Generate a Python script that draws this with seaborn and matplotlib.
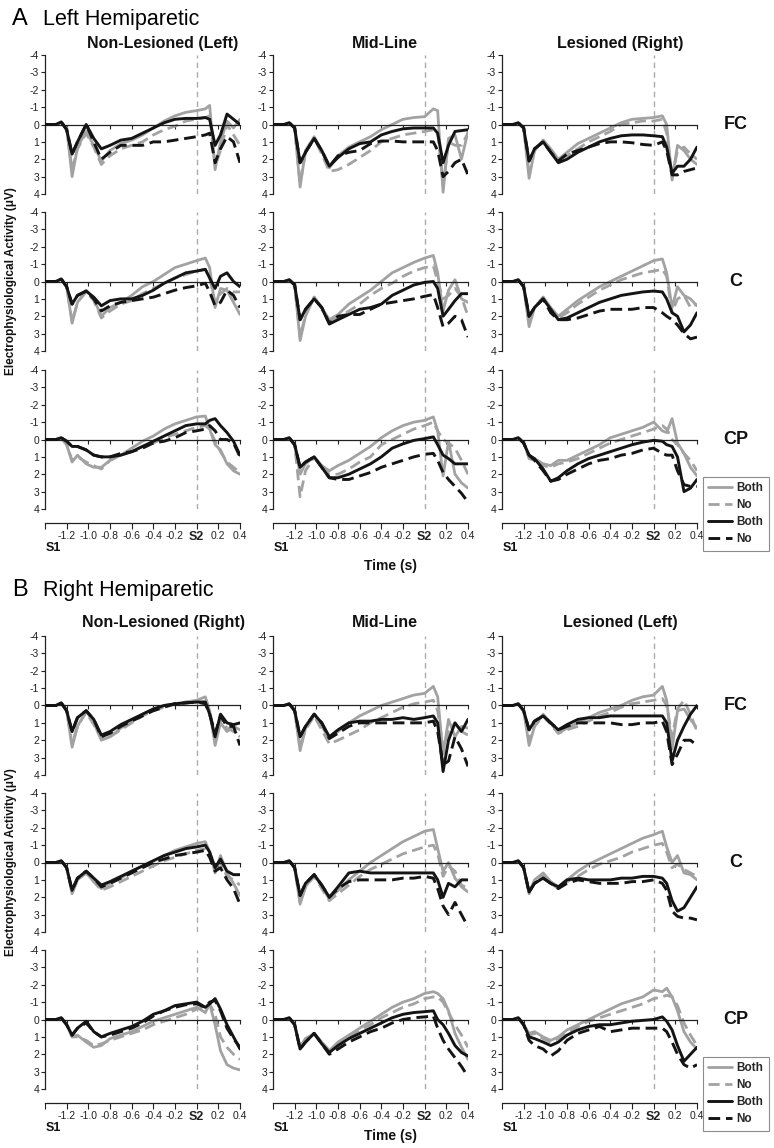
import matplotlib
matplotlib.use("Agg")
import matplotlib.pyplot as plt
import seaborn as sns
from matplotlib.lines import Line2D

sns.set_style("white")
plt.rcParams['font.family'] = ['Liberation Sans', 'DejaVu Sans']
plt.rcParams['xtick.bottom'] = True
plt.rcParams['ytick.left'] = True

# ---------------- data ----------------
time_s = [-1.4, -1.3, -1.25, -1.2, -1.15, -1.1, -1.02, -0.95, -0.88, -0.8, -0.7, -0.6,
          -0.5, -0.4, -0.3, -0.2, -0.1, 0.0, 0.08, 0.12, 0.17, 0.22, 0.28, 0.34, 0.4]

panel_letters = ["A", "B"]
panel_titles = ["Left Hemiparetic", "Right Hemiparetic"]
row_names = ["FC", "C", "CP"]
col_keys = ["L", "M", "R"]
col_titles_A = ["Non-Lesioned (Left)", "Mid-Line", "Lesioned (Right)"]
col_titles_B = ["Non-Lesioned (Right)", "Mid-Line", "Lesioned (Left)"]
y_ticks = [-4, -3, -2, -1, 0, 1, 2, 3, 4]
y_tick_labels = ["-4", "-3", "-2", "-1", "0", "1", "2", "3", "4"]
x_ticks = [-1.4, -1.2, -1.0, -0.8, -0.6, -0.4, -0.2, 0.0, 0.2, 0.4]
x_tick_labels = ["", "-1.2", "-1.0", "-0.8", "-0.6", "-0.4", "-0.2", "S2", "0.2", "0.4"]
legend_labels = ["Both", "No", "Both", "No"]
y_label = "Electrophysiological Activity (\u03bcV)"
x_label = "Time (s)"

# gb = grey Both, gn = grey No, kb = black Both, kn = black No
A_FC_L_gb = [0, 0, -0.1, 0.2, 3.0, 1.3, 0.4, 1.2, 2.1, 1.5, 1.1, 0.9, 0.6, 0.2, -0.2, -0.5, -0.7, -0.8, -0.9, -1.1, 2.6, 1.0, -0.2, 0.2, -0.3]
A_FC_L_gn = [0, 0, -0.1, 0.2, 2.6, 1.4, 0.5, 1.3, 2.3, 1.8, 1.4, 1.2, 1.0, 0.6, 0.3, 0.1, -0.2, -0.3, -0.4, -0.5, 2.4, 1.5, 0.0, 0.6, 1.2]
A_FC_L_kb = [0, 0, -0.15, 0.3, 1.7, 1.0, 0.0, 0.8, 1.4, 1.2, 0.9, 0.8, 0.5, 0.2, -0.1, -0.3, -0.35, -0.35, -0.4, -0.3, 1.2, 0.6, -0.6, -0.3, 0.0]
A_FC_L_kn = [0, 0, -0.15, 0.3, 1.7, 1.0, 0.0, 1.0, 2.0, 1.6, 1.2, 1.2, 1.2, 1.0, 1.0, 0.9, 0.8, 0.7, 0.6, 0.5, 2.2, 1.4, 0.7, 1.0, 2.2]

A_FC_M_gb = [0, 0, -0.1, 0.2, 3.6, 1.5, 0.7, 1.5, 2.5, 1.8, 1.3, 1.0, 0.7, 0.3, 0.0, -0.3, -0.4, -0.45, -0.9, -0.8, 3.9, 0.8, 0.6, 2.0, 0.4]
A_FC_M_gn = [0, 0, -0.1, 0.2, 3.4, 1.6, 0.8, 1.7, 2.7, 2.6, 2.3, 1.9, 1.5, 1.0, 0.8, 0.6, 0.5, 0.4, 0.3, 0.5, 3.5, 1.0, 1.2, 1.2, 0.5]
A_FC_M_kb = [0, 0, -0.1, 0.2, 2.2, 1.6, 0.8, 1.5, 2.4, 1.9, 1.4, 1.1, 1.0, 0.6, 0.4, 0.25, 0.2, 0.2, 0.2, 0.5, 2.2, 1.2, 0.4, 0.35, 0.3]
A_FC_M_kn = [0, 0, -0.1, 0.2, 2.2, 1.6, 0.8, 1.5, 2.4, 1.8, 1.6, 1.5, 1.1, 0.95, 0.95, 1.0, 1.0, 1.0, 1.0, 1.5, 3.0, 2.7, 2.2, 2.0, 2.9]

A_FC_R_gb = [0, 0, -0.1, 0.2, 3.1, 1.5, 0.9, 1.4, 2.0, 1.6, 1.1, 0.8, 0.5, 0.2, -0.1, -0.3, -0.35, -0.4, -0.5, 0.0, 3.2, 1.2, 1.5, 2.0, 2.3]
A_FC_R_gn = [0, 0, -0.1, 0.2, 2.8, 1.5, 0.9, 1.5, 2.0, 1.8, 1.4, 1.0, 0.7, 0.4, 0.0, -0.1, -0.2, -0.2, -0.3, 0.5, 3.0, 1.5, 1.3, 1.7, 2.0]
A_FC_R_kb = [0, 0, -0.1, 0.2, 2.1, 1.4, 1.0, 1.6, 2.2, 2.0, 1.6, 1.3, 1.0, 0.8, 0.65, 0.6, 0.6, 0.65, 0.7, 1.3, 2.8, 2.4, 2.4, 2.0, 1.3]
A_FC_R_kn = [0, 0, -0.1, 0.2, 2.1, 1.4, 1.0, 1.6, 2.1, 1.7, 1.5, 1.3, 1.1, 1.0, 1.0, 1.05, 1.15, 1.2, 1.0, 1.5, 2.9, 2.9, 2.7, 2.6, 2.5]

A_C_L_gb = [0, 0, -0.1, 0.3, 2.4, 1.2, 0.5, 1.0, 2.0, 1.5, 1.2, 0.8, 0.3, 0.0, -0.4, -0.8, -1.0, -1.2, -1.35, -0.8, 1.5, 0.4, 0.5, 1.2, 1.9]
A_C_L_gn = [0, 0, -0.1, 0.3, 2.3, 1.2, 0.6, 1.1, 2.1, 1.7, 1.3, 1.1, 0.7, 0.4, 0.1, -0.2, -0.4, -0.6, -0.7, -0.2, 1.2, 0.7, 0.4, 0.6, 0.6]
A_C_L_kb = [0, 0, -0.15, 0.3, 1.3, 0.8, 0.55, 0.9, 1.4, 1.1, 1.0, 1.0, 0.8, 0.5, 0.1, -0.2, -0.5, -0.6, -0.7, -0.2, 0.4, -0.3, -0.5, 0.0, 0.3]
A_C_L_kn = [0, 0, -0.15, 0.3, 1.3, 0.8, 0.55, 1.0, 1.7, 1.4, 1.2, 1.1, 1.0, 0.9, 0.7, 0.5, 0.35, 0.25, 0.1, 0.6, 1.4, 1.2, 0.5, 0.8, 1.5]

A_C_M_gb = [0, 0, -0.1, 0.2, 3.4, 2.0, 0.9, 1.5, 2.2, 1.9, 1.3, 0.9, 0.5, 0.0, -0.5, -0.8, -1.1, -1.35, -1.5, -0.5, 1.7, 0.5, -0.1, 1.0, 1.2]
A_C_M_gn = [0, 0, -0.1, 0.2, 3.2, 1.9, 0.9, 1.6, 2.3, 2.1, 1.7, 1.3, 0.8, 0.4, 0.1, -0.3, -0.6, -0.8, -0.9, 0.0, 1.0, 0.8, 0.4, 0.9, 2.0]
A_C_M_kb = [0, 0, -0.1, 0.2, 2.2, 1.6, 1.0, 1.5, 2.45, 2.2, 1.9, 1.6, 1.5, 1.3, 0.8, 0.5, 0.2, 0.05, 0.0, 0.4, 2.0, 1.6, 1.1, 0.7, 0.7]
A_C_M_kn = [0, 0, -0.1, 0.2, 2.2, 1.6, 1.0, 1.5, 2.4, 2.0, 1.9, 1.9, 1.6, 1.3, 1.2, 1.1, 1.0, 0.85, 0.75, 1.5, 2.6, 2.4, 2.0, 2.2, 3.2]

A_C_R_gb = [0, 0, -0.1, 0.3, 2.6, 1.5, 0.9, 1.5, 2.0, 1.6, 1.1, 0.7, 0.3, 0.0, -0.3, -0.6, -0.9, -1.2, -1.3, -0.5, 1.5, 0.3, 0.8, 1.0, 1.4]
A_C_R_gn = [0, 0, -0.1, 0.3, 2.3, 1.5, 0.9, 1.6, 2.1, 1.8, 1.3, 0.9, 0.5, 0.2, -0.1, -0.3, -0.5, -0.6, -0.7, -0.3, 1.8, 1.0, 0.8, 1.5, 1.3]
A_C_R_kb = [0, 0, -0.1, 0.3, 2.0, 1.5, 1.0, 1.6, 2.2, 2.1, 1.8, 1.5, 1.2, 1.0, 0.8, 0.7, 0.6, 0.55, 0.6, 1.0, 1.8, 2.0, 2.9, 2.5, 1.8]
A_C_R_kn = [0, 0, -0.1, 0.3, 2.0, 1.5, 1.0, 1.8, 2.2, 2.2, 2.1, 1.9, 1.7, 1.6, 1.6, 1.6, 1.5, 1.5, 1.8, 2.0, 2.2, 2.5, 3.0, 3.3, 3.2]

A_CP_L_gb = [0, 0, -0.1, 0.3, 1.3, 0.9, 1.4, 1.6, 1.6, 1.2, 0.9, 0.5, 0.1, -0.2, -0.6, -0.9, -1.1, -1.3, -1.35, -0.6, 0.3, 0.6, 1.4, 1.8, 2.0]
A_CP_L_gn = [0, 0, -0.1, 0.3, 1.2, 1.0, 1.3, 1.5, 1.7, 1.2, 0.9, 0.7, 0.4, 0.2, -0.1, -0.3, -0.5, -0.7, -0.8, -0.6, 0.1, 0.7, 1.3, 1.6, 1.9]
A_CP_L_kb = [0, 0, -0.1, 0.1, 0.4, 0.4, 0.6, 0.9, 1.0, 1.0, 0.9, 0.7, 0.4, 0.1, -0.2, -0.5, -0.8, -0.9, -0.9, -1.1, -1.2, -0.8, -0.4, 0.1, 0.9]
A_CP_L_kn = [0, 0, -0.1, 0.1, 0.4, 0.4, 0.6, 0.9, 1.0, 1.0, 0.8, 0.7, 0.5, 0.2, 0.1, -0.1, -0.4, -0.5, -0.6, -0.8, -0.5, 0.0, 0.0, 0.2, 1.0]

A_CP_M_gb = [0, 0, -0.1, 0.3, 2.0, 1.4, 1.0, 1.5, 1.8, 1.5, 1.2, 0.8, 0.4, -0.1, -0.5, -0.8, -1.0, -1.1, -1.3, -0.5, 2.1, 0.1, 2.0, 2.5, 2.8]
A_CP_M_gn = [0, 0, -0.1, 0.3, 3.3, 1.8, 1.0, 1.6, 2.0, 2.0, 1.7, 1.3, 1.0, 0.3, 0.0, -0.3, -0.6, -0.8, -1.0, -0.5, 0.0, 0.2, 0.5, 1.2, 2.0]
A_CP_M_kb = [0, 0, -0.1, 0.3, 1.6, 1.3, 1.0, 1.6, 2.2, 2.2, 2.0, 1.7, 1.4, 1.0, 0.5, 0.25, 0.05, -0.05, -0.15, 0.3, 0.9, 1.1, 1.4, 1.4, 1.4]
A_CP_M_kn = [0, 0, -0.1, 0.3, 1.6, 1.3, 1.0, 1.6, 2.2, 2.3, 2.3, 2.1, 1.9, 1.6, 1.4, 1.2, 1.0, 0.85, 0.8, 1.2, 1.9, 2.3, 2.7, 3.1, 3.6]

A_CP_R_gb = [0, 0, -0.1, 0.2, 1.0, 1.1, 1.4, 1.5, 1.2, 1.2, 0.9, 0.6, 0.3, -0.1, -0.3, -0.5, -0.7, -1.0, -0.5, -0.4, -1.2, 0.2, 0.8, 1.6, 2.1]
A_CP_R_gn = [0, 0, -0.1, 0.2, 1.1, 1.2, 1.5, 1.6, 1.4, 1.3, 1.1, 0.8, 0.5, 0.2, 0.0, -0.2, -0.4, -0.6, -0.8, -0.6, 0.0, 0.3, 0.8, 1.2, 1.8]
A_CP_R_kb = [0, 0, -0.1, 0.2, 0.9, 1.1, 1.7, 2.4, 2.2, 1.8, 1.4, 1.1, 0.9, 0.7, 0.5, 0.3, 0.15, 0.05, 0.1, 0.3, 0.4, 1.0, 3.0, 2.8, 2.3]
A_CP_R_kn = [0, 0, -0.1, 0.2, 0.9, 1.2, 1.8, 2.4, 2.3, 2.0, 1.7, 1.4, 1.2, 1.1, 0.9, 0.8, 0.6, 0.5, 0.8, 0.9, 0.9, 1.8, 2.6, 2.7, 2.7]

B_FC_L_gb = [0, 0, -0.15, 0.3, 2.4, 1.2, 0.3, 1.0, 2.0, 1.8, 1.3, 0.9, 0.5, 0.2, 0.0, -0.1, -0.2, -0.3, -0.5, 0.3, 2.3, 1.0, 1.5, 1.2, 1.4]
B_FC_L_gn = [0, 0, -0.15, 0.3, 2.2, 1.2, 0.4, 1.1, 1.9, 1.8, 1.4, 1.0, 0.6, 0.3, 0.1, -0.1, -0.2, -0.2, -0.2, 0.3, 1.8, 0.8, 1.3, 1.5, 1.8]
B_FC_L_kb = [0, 0, -0.15, 0.3, 1.5, 0.7, 0.3, 0.8, 1.7, 1.5, 1.1, 0.8, 0.5, 0.2, 0.0, -0.1, -0.15, -0.2, -0.2, 0.5, 1.8, 0.5, 1.0, 1.1, 1.0]
B_FC_L_kn = [0, 0, -0.15, 0.3, 1.5, 0.7, 0.3, 0.8, 1.8, 1.6, 1.2, 0.9, 0.6, 0.3, 0.1, -0.1, -0.15, -0.2, -0.1, 0.5, 1.6, 0.6, 1.2, 1.2, 2.3]

B_FC_M_gb = [0, 0, -0.1, 0.3, 2.6, 1.3, 0.5, 1.2, 1.9, 1.5, 1.0, 0.6, 0.3, 0.0, -0.2, -0.4, -0.6, -0.7, -1.1, -0.5, 2.8, 0.8, 1.8, 1.2, 1.3]
B_FC_M_gn = [0, 0, -0.1, 0.3, 2.4, 1.4, 0.6, 1.4, 2.2, 2.0, 1.7, 1.4, 1.0, 0.7, 0.4, 0.1, -0.1, -0.2, -0.3, 0.3, 2.5, 1.5, 1.0, 1.5, 1.7]
B_FC_M_kb = [0, 0, -0.1, 0.3, 1.8, 1.2, 0.5, 1.0, 1.8, 1.4, 1.0, 0.9, 0.9, 0.8, 0.8, 0.7, 0.8, 0.7, 0.6, 1.0, 3.8, 2.0, 1.0, 1.5, 0.8]
B_FC_M_kn = [0, 0, -0.1, 0.3, 1.8, 1.2, 0.5, 1.0, 1.9, 1.6, 1.2, 1.0, 1.0, 1.0, 1.0, 1.0, 1.0, 1.0, 0.9, 1.5, 3.4, 3.2, 1.8, 2.5, 3.5]

B_FC_R_gb = [0, 0, -0.1, 0.3, 2.3, 1.2, 0.5, 1.0, 1.6, 1.3, 1.0, 0.7, 0.4, 0.2, 0.0, -0.3, -0.5, -0.6, -1.1, -0.3, 2.5, 0.3, 0.2, 0.8, 1.3]
B_FC_R_gn = [0, 0, -0.1, 0.3, 2.0, 1.2, 0.6, 1.1, 1.6, 1.4, 1.2, 0.9, 0.6, 0.4, 0.1, -0.1, -0.2, -0.3, -0.4, 0.0, 1.8, 0.2, -0.3, 0.5, 1.5]
B_FC_R_kb = [0, 0, -0.1, 0.3, 1.4, 0.9, 0.6, 1.0, 1.4, 1.1, 0.8, 0.7, 0.7, 0.6, 0.6, 0.6, 0.6, 0.6, 0.6, 1.0, 3.2, 2.0, 1.2, 0.5, 0.0]
B_FC_R_kn = [0, 0, -0.1, 0.3, 1.4, 0.9, 0.6, 1.0, 1.4, 1.2, 1.0, 1.0, 1.0, 1.0, 1.1, 1.1, 1.0, 1.0, 0.9, 1.5, 3.4, 2.8, 2.0, 2.0, 2.3]

B_C_L_gb = [0, 0, -0.1, 0.3, 1.8, 1.0, 0.6, 1.1, 1.5, 1.2, 0.9, 0.5, 0.2, -0.1, -0.4, -0.7, -0.9, -1.1, -1.2, -0.6, 0.6, -0.4, 0.6, 1.2, 1.9]
B_C_L_gn = [0, 0, -0.1, 0.3, 1.7, 1.0, 0.6, 1.1, 1.6, 1.4, 1.1, 0.8, 0.5, 0.2, -0.1, -0.3, -0.5, -0.7, -0.8, -0.4, 0.3, 0.0, 0.8, 1.0, 1.3]
B_C_L_kb = [0, 0, -0.1, 0.3, 1.6, 0.9, 0.5, 0.9, 1.3, 1.1, 0.8, 0.5, 0.2, -0.1, -0.4, -0.6, -0.8, -0.9, -1.0, -0.6, 0.3, -0.2, 0.5, 0.7, 0.7]
B_C_L_kn = [0, 0, -0.1, 0.3, 1.6, 0.9, 0.5, 0.9, 1.4, 1.2, 0.9, 0.6, 0.3, 0.0, -0.2, -0.4, -0.5, -0.6, -0.7, -0.3, 0.5, 0.3, 1.0, 1.5, 2.4]

B_C_M_gb = [0, 0, -0.1, 0.3, 2.4, 1.4, 0.7, 1.4, 2.1, 1.6, 1.0, 0.5, 0.0, -0.4, -0.8, -1.2, -1.5, -1.8, -1.9, -0.8, 0.5, 0.0, 0.9, 1.4, 1.7]
B_C_M_gn = [0, 0, -0.1, 0.3, 2.3, 1.4, 0.8, 1.5, 2.2, 1.8, 1.3, 0.8, 0.4, 0.1, -0.2, -0.5, -0.7, -0.9, -1.0, -0.5, 0.8, 0.2, 0.5, 1.3, 1.5]
B_C_M_kb = [0, 0, -0.1, 0.3, 1.9, 1.2, 0.7, 1.3, 2.0, 1.4, 0.6, 0.5, 0.6, 0.6, 0.6, 0.6, 0.6, 0.6, 0.6, 1.0, 2.0, 1.2, 1.4, 1.0, 1.0]
B_C_M_kn = [0, 0, -0.1, 0.3, 1.9, 1.2, 0.7, 1.3, 2.0, 1.5, 1.1, 1.0, 1.0, 1.0, 1.0, 0.9, 0.9, 0.8, 0.9, 1.5, 2.5, 3.0, 2.3, 3.0, 3.7]

B_C_R_gb = [0, 0, -0.1, 0.3, 1.8, 1.0, 0.6, 1.1, 1.4, 1.0, 0.5, 0.1, -0.2, -0.5, -0.8, -1.1, -1.4, -1.6, -1.8, -0.9, 0.0, -0.4, 0.6, 0.7, 1.0]
B_C_R_gn = [0, 0, -0.1, 0.3, 1.7, 1.1, 0.7, 1.2, 1.5, 1.1, 0.8, 0.4, 0.1, -0.1, -0.3, -0.6, -0.8, -1.0, -1.1, -0.6, 0.3, 0.1, 0.4, 0.6, 0.8]
B_C_R_kb = [0, 0, -0.1, 0.3, 1.7, 1.2, 0.9, 1.2, 1.4, 1.0, 0.9, 1.0, 1.0, 1.0, 0.9, 0.9, 0.8, 0.8, 0.9, 1.2, 2.2, 2.8, 2.6, 2.0, 1.4]
B_C_R_kn = [0, 0, -0.1, 0.3, 1.7, 1.2, 0.9, 1.2, 1.5, 1.2, 1.0, 1.1, 1.2, 1.2, 1.2, 1.1, 1.1, 1.0, 1.2, 1.6, 2.8, 3.1, 3.2, 3.2, 3.3]

B_CP_L_gb = [0, 0, -0.1, 0.3, 1.0, 0.9, 1.3, 1.6, 1.5, 1.1, 0.9, 0.7, 0.4, 0.1, -0.1, -0.3, -0.5, -0.7, -0.4, -0.9, 0.3, 1.8, 2.6, 2.8, 2.9]
B_CP_L_gn = [0, 0, -0.1, 0.3, 1.0, 1.0, 1.2, 1.5, 1.4, 1.2, 1.0, 0.8, 0.6, 0.3, 0.1, -0.1, -0.3, -0.6, -0.7, -0.9, -0.3, 1.0, 1.6, 2.0, 2.3]
B_CP_L_kb = [0, 0, -0.1, 0.3, 0.9, 0.5, 0.1, 0.7, 1.0, 0.8, 0.6, 0.4, 0.1, -0.3, -0.5, -0.8, -0.9, -1.0, -0.7, -0.9, -1.2, -0.6, 0.3, 1.0, 1.7]
B_CP_L_kn = [0, 0, -0.1, 0.3, 0.9, 0.5, 0.2, 0.7, 1.0, 0.9, 0.7, 0.5, 0.2, -0.2, -0.5, -0.7, -0.85, -0.9, -0.7, -1.0, -1.1, -0.5, 0.5, 1.1, 1.6]

B_CP_M_gb = [0, 0, -0.1, 0.3, 1.6, 1.1, 0.8, 1.3, 1.8, 1.3, 0.9, 0.5, 0.1, -0.3, -0.7, -1.0, -1.2, -1.5, -1.6, -1.5, -1.2, -0.5, 0.8, 1.6, 2.3]
B_CP_M_gn = [0, 0, -0.1, 0.3, 1.6, 1.1, 0.8, 1.3, 1.8, 1.4, 1.0, 0.6, 0.3, -0.1, -0.4, -0.7, -0.9, -1.2, -1.3, -1.3, -1.0, -0.4, 0.3, 0.9, 1.6]
B_CP_M_kb = [0, 0, -0.1, 0.3, 1.7, 1.3, 0.8, 1.4, 1.9, 1.5, 1.1, 0.8, 0.5, 0.2, -0.1, -0.3, -0.4, -0.45, -0.5, 0.0, 0.3, 0.8, 1.5, 1.9, 2.1]
B_CP_M_kn = [0, 0, -0.1, 0.3, 1.7, 1.3, 0.8, 1.4, 2.0, 1.7, 1.3, 1.0, 0.7, 0.5, 0.2, 0.0, -0.1, -0.15, -0.2, 0.5, 1.2, 1.7, 2.2, 2.7, 3.3]

B_CP_R_gb = [0, 0, -0.1, 0.3, 0.8, 0.7, 1.0, 1.2, 1.0, 0.6, 0.3, 0.0, -0.3, -0.6, -0.9, -1.1, -1.3, -1.7, -1.6, -1.8, -1.3, -0.5, 0.7, 1.3, 1.7]
B_CP_R_gn = [0, 0, -0.1, 0.3, 0.9, 0.8, 1.1, 1.3, 1.1, 0.8, 0.4, 0.1, -0.1, -0.3, -0.5, -0.7, -0.9, -1.2, -1.3, -1.4, -1.3, -0.8, 0.2, 0.9, 1.5]
B_CP_R_kb = [0, 0, -0.1, 0.3, 1.0, 1.1, 1.3, 1.5, 1.3, 0.9, 0.6, 0.4, 0.3, 0.3, 0.2, 0.1, 0.05, 0.0, -0.15, 0.1, 0.6, 1.5, 2.4, 2.0, 1.6]
B_CP_R_kn = [0, 0, -0.1, 0.3, 1.2, 1.5, 1.7, 2.1, 1.8, 1.2, 0.8, 0.6, 0.4, 0.7, 0.6, 0.5, 0.5, 0.5, 0.5, 0.7, 1.3, 2.0, 2.6, 2.8, 2.6]

# ---------------- style ----------------
GREY = "#a2a2a2"
BLACK = "#141414"
series_order = ["gn", "gb", "kn", "kb"]
series_style = {
    "gb": dict(color=GREY, linewidth=2.0, linestyle="-"),
    "gn": dict(color=GREY, linewidth=2.0, linestyle=(0, (4, 2))),
    "kb": dict(color=BLACK, linewidth=2.1, linestyle="-"),
    "kn": dict(color=BLACK, linewidth=2.1, linestyle=(0, (4, 2))),
}

W, H = 774, 1148
fig = plt.figure(figsize=(W / 100, H / 100), dpi=100)


def fx(x):
    return x / W


def fy(y):
    return 1 - y / H


col_left = [45, 273, 502]
ax_w, ax_h = 195, 139
row_top = {"A": [55, 212, 370], "B": [636, 793, 950]}
title_y = {"A": 25, "B": 596}
coltitle_y = {"A": 48, "B": 627}
coltitle_x = [163, 385, 620]
xlabel_y = {"A": 566, "B": 1136}
legend_top = {"A": 477, "B": 1057}
g = globals()

for pi, p in enumerate(panel_letters):
    fig.text(fx(12), fy(title_y[p]), p, fontsize=17, va="baseline", ha="left", color="black")
    fig.text(fx(43), fy(title_y[p]), panel_titles[pi], fontsize=15.5, va="baseline",
             ha="left", color="black")
    ctitles = col_titles_A if p == "A" else col_titles_B
    for ci in range(3):
        fig.text(fx(coltitle_x[ci]), fy(coltitle_y[p]), ctitles[ci], fontsize=11.5,
                 fontweight="bold", ha="center", va="baseline", color="#111111")
    for ri, r in enumerate(row_names):
        top = row_top[p][ri]
        for ci, c in enumerate(col_keys):
            ax = fig.add_axes([fx(col_left[ci]), fy(top + ax_h), fx(ax_w), ax_h / H])
            ax.patch.set_alpha(0)
            ax.axvline(0, color="#ababab", lw=1.0, ls=(0, (4, 3)), zorder=0)
            for s in series_order:
                vals = g[f"{p}_{r}_{c}_{s}"]
                sns.lineplot(x=time_s, y=vals, ax=ax, estimator=None, sort=False,
                             legend=False, zorder=3 if s.startswith("k") else 2,
                             **series_style[s])
            ax.set_xlim(-1.4, 0.4)
            ax.set_ylim(4, -4)
            ax.set_xlabel("")
            ax.set_ylabel("")
            for sp in ["top", "right"]:
                ax.spines[sp].set_visible(False)
            ax.spines["bottom"].set_position(("data", 0))
            ax.spines["bottom"].set_linewidth(0.9)
            ax.spines["bottom"].set_color("#222222")
            ax.spines["left"].set_linewidth(0.9)
            ax.spines["left"].set_color("#222222")
            ax.set_yticks(y_ticks)
            ax.set_yticklabels(y_tick_labels)
            ax.set_xticks(x_ticks)
            ax.set_xticklabels([])
            ax.tick_params(axis="y", direction="out", length=3, width=0.8, pad=1.2,
                           labelsize=7.5, colors="#222222", left=True)
            ax.tick_params(axis="x", direction="out", length=3, width=0.8,
                           colors="#222222", bottom=True, labelbottom=False)
            if ri == 2:
                sec = ax.secondary_xaxis(-14 / ax_h)
                sec.set_xticks(x_ticks)
                sec.set_xticklabels(x_tick_labels)
                sec.tick_params(direction="out", length=4, width=0.8, pad=1.5,
                                labelsize=7.5, colors="#222222", bottom=True)
                sec.spines["bottom"].set_linewidth(0.9)
                sec.spines["bottom"].set_color("#222222")
                lab = sec.get_xticklabels()[7]
                lab.set_fontweight("bold")
                lab.set_fontsize(9)
                fig.text(fx(col_left[ci] + 1), fy(top + ax_h + 39), "S1", fontsize=9,
                         fontweight="bold", ha="left", va="center", color="#111111")
        fig.text(fx(736), fy(top + ax_h / 2), r, fontsize=13, fontweight="bold",
                 ha="center", va="center", color="#111111")
    mid = row_top[p][1] + ax_h / 2
    fig.text(fx(11), fy(mid), y_label, rotation=90, fontsize=8.5, fontweight="bold",
             ha="center", va="center", color="#111111")
    fig.text(fx(390), fy(xlabel_y[p]), x_label, fontsize=10,
             fontweight="bold", ha="center", va="center", color="#111111")

    handles = [Line2D([0], [0], **series_style[k]) for k in ["gb", "gn", "kb", "kn"]]
    leg = fig.legend(handles, legend_labels, loc="upper left",
                     bbox_to_anchor=(fx(703), fy(legend_top[p])),
                     bbox_transform=fig.transFigure,
                     frameon=True, fancybox=False, edgecolor="#8c8c8c", framealpha=1,
                     prop={"weight": "bold", "size": 8.5}, handlelength=2.0,
                     handletextpad=0.4, labelspacing=0.42, borderpad=0.45,
                     borderaxespad=0)
    leg.get_frame().set_linewidth(0.8)

fig.savefig("out.png", dpi=100)
